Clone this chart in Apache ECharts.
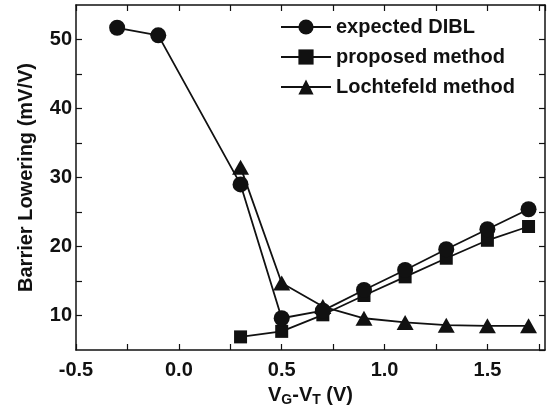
<!DOCTYPE html>
<html>
<head>
<meta charset="UTF-8">
<title>Barrier Lowering</title>
<script src="https://cdn.jsdelivr.net/npm/echarts@6/dist/echarts.min.js"></script>
<style>
  html, body { margin: 0; padding: 0; background: #fff; }
  #chart { width: 551px; height: 411px; }
</style>
</head>
<body>
<div id="chart"></div>
<script>
// data
var xExpected = [-0.3, -0.1, 0.3, 0.5, 0.7, 0.9, 1.1, 1.3, 1.5, 1.7];
var expectedDIBL = [51.7, 50.6, 29.0, 9.6, 10.7, 13.7, 16.6, 19.6, 22.5, 25.4];
var xMethods = [0.3, 0.5, 0.7, 0.9, 1.1, 1.3, 1.5, 1.7];
var proposed = [6.9, 7.7, 10.1, 12.9, 15.6, 18.3, 20.9, 22.9];
var lochtefeld = [31.5, 14.7, 11.3, 9.6, 9.0, 8.6, 8.5, 8.5];

function pairs(xs, ys) {
    return xs.map(function (x, i) { return [x, ys[i]]; });
}

var font = 'Liberation Sans, Arial, sans-serif';
var ink = '#111';

var chart = echarts.init(document.getElementById('chart'));

var axisBase = {
    axisLine: { show: true, onZero: false, lineStyle: { color: ink, width: 1.5 } },
    axisTick: { show: true, inside: true, length: 6, lineStyle: { color: ink, width: 1.2 } },
    splitLine: { show: false }
};

chart.setOption({
    animation: false,
    grid: { left: 76, right: 6, top: 5, bottom: 61, outerBoundsMode: 'none', containLabel: false },
    legend: {
        left: 275,
        top: 12,
        orient: 'vertical',
        itemWidth: 50,
        itemHeight: 19,
        itemGap: 10,
        textStyle: { fontFamily: font, fontSize: 20, fontWeight: 'bold', color: ink },
        data: ['expected DIBL', 'proposed method', 'Lochtefeld method']
    },
    xAxis: [
        Object.assign({}, axisBase, {
            type: 'value',
            min: -0.5,
            max: 1.78,
            interval: 0.25,
            name: '{b|V}{s|G}{b|-V}{s|T}{b| (V)}',
            nameLocation: 'middle',
            nameGap: 33,
            nameTextStyle: {
                rich: {
                    b: { fontFamily: font, fontSize: 20, fontWeight: 'bold', color: ink },
                    s: { fontFamily: font, fontSize: 14, fontWeight: 'bold', color: ink, verticalAlign: 'bottom', padding: [10, 0, 0, 0] }
                }
            },
            axisLabel: {
                margin: 10,
                showMaxLabel: false,
                fontFamily: font, fontSize: 20, fontWeight: 'bold', color: ink,
                formatter: function (v) {
                    var r = Math.round(v * 100);
                    return r % 50 === 0 ? (v).toFixed(1) : '';
                }
            }
        }),
        Object.assign({}, axisBase, {
            type: 'value',
            position: 'top',
            min: -0.5,
            max: 1.78,
            interval: 0.25,
            axisLabel: { show: false }
        })
    ],
    yAxis: [
        Object.assign({}, axisBase, {
            type: 'value',
            min: 5,
            max: 55,
            interval: 5,
            name: 'Barrier Lowering (mV/V)',
            nameLocation: 'middle',
            nameGap: 40,
            nameTextStyle: { fontFamily: font, fontSize: 20, fontWeight: 'bold', color: ink },
            axisLabel: {
                margin: 4,
                showMinLabel: false,
                showMaxLabel: false,
                fontFamily: font, fontSize: 20, fontWeight: 'bold', color: ink,
                formatter: function (v) { return v % 10 === 0 ? String(v) : ''; }
            }
        }),
        Object.assign({}, axisBase, {
            type: 'value',
            position: 'right',
            min: 5,
            max: 55,
            interval: 5,
            axisLabel: { show: false }
        })
    ],
    series: [
        {
            name: 'expected DIBL',
            type: 'line',
            data: pairs(xExpected, expectedDIBL),
            symbol: 'circle',
            symbolSize: 16,
            itemStyle: { color: ink },
            lineStyle: { color: ink, width: 1.8 },
            z: 3
        },
        {
            name: 'proposed method',
            type: 'line',
            data: pairs(xMethods, proposed),
            symbol: 'rect',
            symbolSize: 13,
            itemStyle: { color: ink },
            lineStyle: { color: ink, width: 1.8 },
            z: 2
        },
        {
            name: 'Lochtefeld method',
            type: 'line',
            data: pairs(xMethods, lochtefeld),
            symbol: 'triangle',
            symbolSize: [17, 15],
            itemStyle: { color: ink },
            lineStyle: { color: ink, width: 1.8 },
            z: 2
        }
    ]
});
</script>
</body>
</html>
